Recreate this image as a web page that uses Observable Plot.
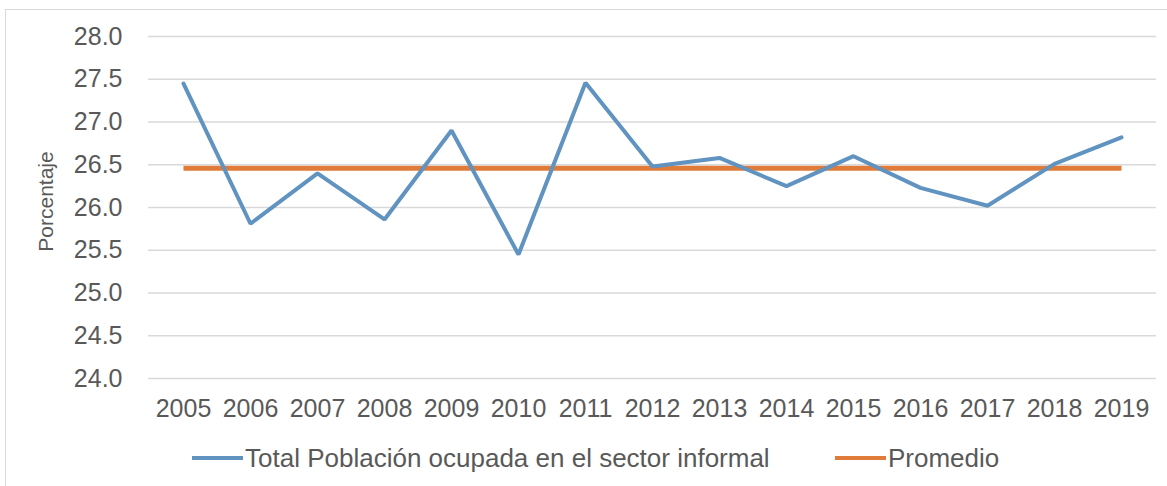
<!DOCTYPE html>
<html>
<head>
<meta charset="utf-8">
<script src="https://cdn.jsdelivr.net/npm/d3@7"></script>
<script src="https://cdn.jsdelivr.net/npm/@observablehq/plot@0.6"></script>
<style>
  html, body { margin: 0; padding: 0; background: #fff; }
  body { width: 1167px; height: 486px; position: relative; overflow: hidden; font-family: "Liberation Sans", Arial, sans-serif; }
  #frame { position: absolute; left: 5px; top: 9px; width: 1180px; height: 500px; border: 1px solid #d9d9d9; box-sizing: border-box; }
  #chart { position: absolute; left: 0; top: 0; }
  #legend { position: absolute; left: 0; top: 440px; width: 1167px; height: 40px; }
  .item { position: absolute; top: 0; height: 36px; display: flex; align-items: center; color: #595959; font-size: 26px; }
  .sw { display: inline-block; width: 51px; height: 4px; margin-right: 2px; }
</style>
</head>
<body>
<div id="frame"></div>
<div id="chart"></div>
<div id="legend"></div>
<script>
const years = ["2005","2006","2007","2008","2009","2010","2011","2012","2013","2014","2015","2016","2017","2018","2019"];
const informal = [27.45, 25.81, 26.40, 25.86, 26.90, 25.45, 27.46, 26.48, 26.58, 26.25, 26.60, 26.23, 26.02, 26.51, 26.82];
const promedio = [26.46];
const yTicks = [24.0, 24.5, 25.0, 25.5, 26.0, 26.5, 27.0, 27.5, 28.0];
const seriesNames = ["Total Población ocupada en el sector informal", "Promedio"];
const colors = ["#6093c0", "#e07b39"];

const rows = years.map((y, i) => ({year: y, value: informal[i]}));
const avgRows = years.map(y => ({year: y, value: promedio[0]}));

const chart = Plot.plot({
  width: 1167,
  height: 430,
  marginTop: 36,
  marginBottom: 52,
  marginLeft: 148,
  marginRight: 11,
  style: {fontFamily: "'Liberation Sans', Arial, sans-serif", fontSize: "25px", color: "#595959", background: "transparent"},
  x: {type: "point", domain: years, padding: 0.5, label: null},
  y: {domain: [24, 28], label: null},
  marks: [
    Plot.gridY(yTicks, {stroke: "#d9d9d9", strokeOpacity: 1, strokeWidth: 1.3}),
    Plot.axisY(yTicks, {tickSize: 0, tickPadding: 26, tickFormat: d => d.toFixed(1), fill: "#595959", fontSize: 25}),
    Plot.axisX({tickSize: 0, tickPadding: 21, fill: "#595959", fontSize: 25}),
    Plot.text(["Porcentaje"], {frameAnchor: "left", textAnchor: "middle", dx: -102, dy: -6, rotate: -90, fontSize: 21, fill: "#595959"}),
    Plot.line(avgRows, {x: "year", y: "value", stroke: colors[1], strokeWidth: 5, strokeLinecap: "butt"}),
    Plot.line(rows, {x: "year", y: "value", stroke: colors[0], strokeWidth: 4, strokeLinejoin: "miter", strokeLinecap: "round"})
  ]
});
document.getElementById("chart").appendChild(chart);

const legend = document.getElementById("legend");
const lefts = [192, 835];
seriesNames.forEach((name, i) => {
  const item = document.createElement("div");
  item.className = "item";
  item.style.left = lefts[i] + "px";
  const sw = document.createElement("span");
  sw.className = "sw";
  sw.style.background = colors[i];
  const t = document.createElement("span");
  t.textContent = name;
  item.appendChild(sw);
  item.appendChild(t);
  legend.appendChild(item);
});
</script>
</body>
</html>
